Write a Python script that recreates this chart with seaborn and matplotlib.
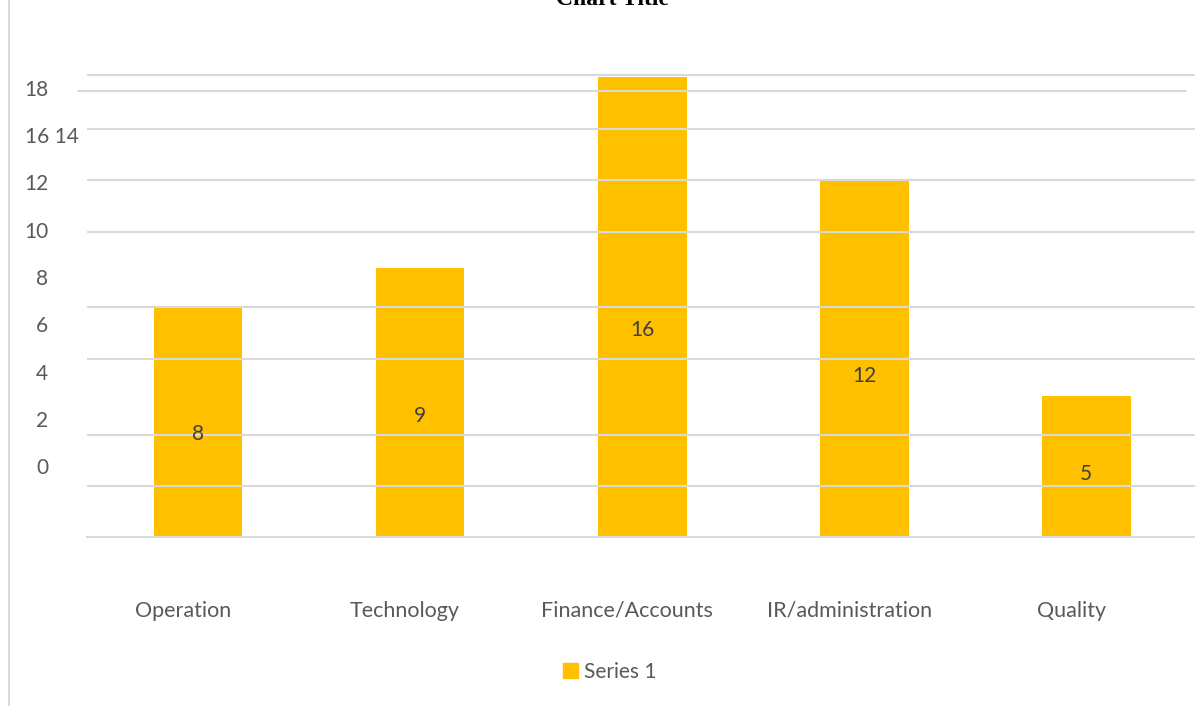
import matplotlib
matplotlib.use("Agg")
import matplotlib.pyplot as plt
import matplotlib.transforms as mtransforms
from matplotlib.lines import Line2D
import seaborn as sns
import pandas as pd

categories = ["Operation", "Technology", "Finance/Accounts", "IR/administration", "Quality"]
bar_heights = [8, 9.36, 16, 12.42, 4.9]
data_labels = ["8", "9", "16", "12", "5"]
gridline_values = [1.77, 3.55, 6.19, 8.0, 10.61, 12.42, 14.19, 16.07]
offset_gridline = 15.51
ytick_values = [0, 2, 4, 6, 8, 10, 12, 14, 16]
ytick_labels = ["0", "2", "4", "6", "8", "10", "12", "16 14", "18"]
series_name = "Series 1"
title = "Chart Title"

sns.set_theme(style="white")
plt.rcParams["font.family"] = ["Lato", "DejaVu Sans"]

BAR = "#FFC000"
GRID = "#D9D9D9"
TXT = "#595959"

W, H = 1195, 707
fig = plt.figure(figsize=(W / 100, H / 100), dpi=100)
rect = [87 / W, (H - 537) / H, 1108 / W, (537 - 60) / H]
ax = fig.add_axes(rect)

df = pd.DataFrame({"category": categories, "value": bar_heights})
sns.barplot(data=df, x="category", y="value", color=BAR, width=0.4,
            saturation=1, edgecolor="none", ax=ax, zorder=2)
if ax.get_legend() is not None:
    ax.get_legend().remove()
ax.set_xlim(-0.5, 4.49)
ax.set_ylim(0, 477 / 28.75)
ax.set_xlabel("")
ax.set_ylabel("")
ax.set_yticks([])

for v in gridline_values:
    ax.axhline(v, color=GRID, lw=1.5, zorder=3)
ax.axhline(offset_gridline, xmin=-0.008, xmax=0.992, color=GRID, lw=1.5, zorder=3, clip_on=False)

for s in ["top", "right", "left"]:
    ax.spines[s].set_visible(False)
ax.spines["bottom"].set_color(GRID)
ax.spines["bottom"].set_linewidth(1.5)
ax.spines["bottom"].set_zorder(3)

ax.tick_params(axis="x", length=0, pad=46, labelsize=15.5, labelcolor=TXT)
shift = mtransforms.ScaledTranslation(-15 / 100, 0, fig.dpi_scale_trans)
for lab in ax.get_xticklabels():
    lab.set_transform(lab.get_transform() + shift)

for i, (h, t) in enumerate(zip(bar_heights, data_labels)):
    ax.text(i, h * 0.45, t, ha="center", va="center", fontsize=15, color="#404040", zorder=4)

# secondary axis carrying the (misaligned) value labels
ax2 = fig.add_axes(rect)
ax2.patch.set_visible(False)
for s in ax2.spines.values():
    s.set_visible(False)
ax2.set_xticks([])
ax2.set_ylim(-71 / 23.625, -71 / 23.625 + 477 / 23.625)
ax2.set_yticks(ytick_values)
ax2.set_yticklabels(ytick_labels)
ax2.tick_params(axis="y", length=0, pad=28, labelsize=15, labelcolor=TXT)
lab = ax2.get_yticklabels()[7]
lab.set_ha("left")
lab.set_transform(lab.get_transform() + mtransforms.ScaledTranslation(-23 / 100, 0, fig.dpi_scale_trans))

# legend
handles = [plt.Rectangle((0, 0), 1, 1, color=BAR)]
fig.legend(handles, [series_name], loc="center", bbox_to_anchor=(610 / W, 1 - 672 / H),
           frameon=False, fontsize=15, labelcolor=TXT, handlelength=0.7, handleheight=0.7,
           handletextpad=0.3)

fig.text(612 / W, 1 - 5 / H, title, ha="center", va="baseline", fontsize=17,
         fontweight="bold", family="Liberation Serif", color="black")

fig.add_artist(Line2D([9 / W, 9 / W], [1 - 705 / H, 1], color=GRID, lw=1.5))

fig.savefig("out.png", dpi=100)
